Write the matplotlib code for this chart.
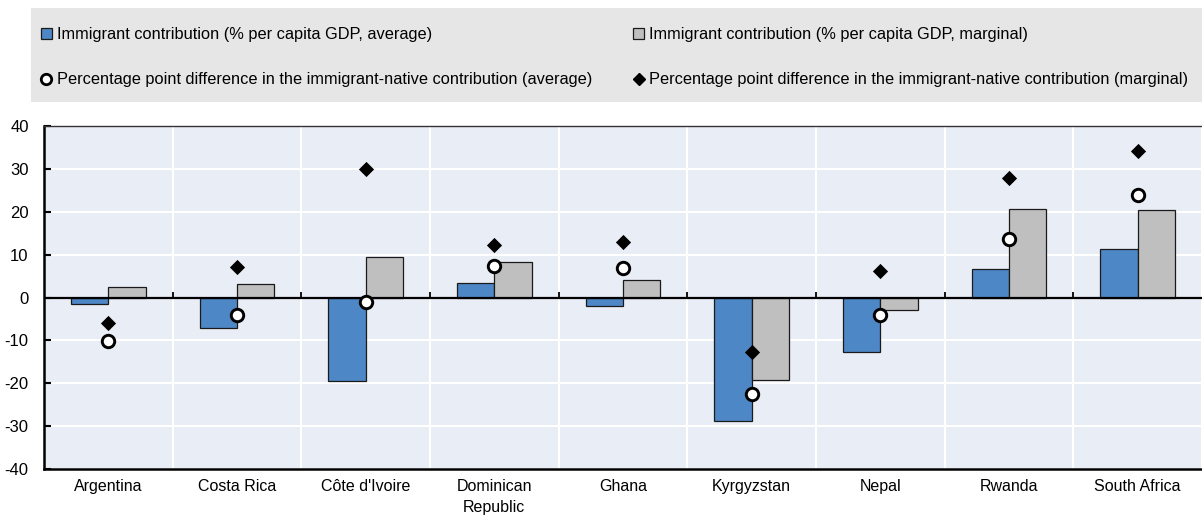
import matplotlib
matplotlib.use("Agg")
import matplotlib.pyplot as plt
from matplotlib.patches import Patch, Rectangle
from matplotlib.lines import Line2D
import numpy as np

plt.rcParams['font.family'] = ['Liberation Sans', 'DejaVu Sans']

countries = ["Argentina", "Costa Rica", "Côte d'Ivoire", "Dominican\nRepublic", "Ghana",
             "Kyrgyzstan", "Nepal", "Rwanda", "South Africa"]
contrib_avg = [-1.6, -7.2, -19.4, 3.3, -1.9, -28.8, -12.7, 6.6, 11.2]
contrib_marg = [2.5, 3.1, 9.4, 8.2, 4.1, -19.2, -2.9, 20.6, 20.4]
diff_avg = [-10.1, -4.1, -1.0, 7.3, 6.8, -22.6, -4.1, 13.6, 23.9]
diff_marg = [-6.0, 7.2, 30.0, 12.2, 13.0, -12.6, 6.2, 27.9, 34.2]
yticks = [-40, -30, -20, -10, 0, 10, 20, 30, 40]

labels = ["Immigrant contribution (% per capita GDP, average)",
          "Immigrant contribution (% per capita GDP, marginal)",
          "Percentage point difference in the immigrant-native contribution (average)",
          "Percentage point difference in the immigrant-native contribution (marginal)"]

BLUE = "#4e87c6"
GRAY = "#bfbfbf"
BG = "#e9edf5"
W, H = 1202, 517

fig = plt.figure(figsize=(W / 100, H / 100), dpi=100)
ax = fig.add_axes([44 / W, 1 - 469 / H, 1 - 44 / W, (469 - 126) / H])
ax.set_facecolor(BG)

x = np.arange(len(countries))
w = 0.29
ax.bar(x - w / 2, contrib_avg, w, color=BLUE, edgecolor="#1a1a1a", linewidth=0.9, zorder=3)
ax.bar(x + w / 2, contrib_marg, w, color=GRAY, edgecolor="#1a1a1a", linewidth=0.9, zorder=3)
ax.scatter(x, diff_marg, marker="D", s=60, color="black", linewidth=0, zorder=5)
ax.scatter(x, diff_avg, marker="o", s=80, facecolor="white", edgecolor="black", linewidth=2.1, zorder=6)

ax.set_xlim(-0.5, len(countries) - 0.5)
ax.set_ylim(-40, 40)
ax.set_yticks(yticks)
ax.set_yticklabels([str(v) for v in yticks])
ax.set_xticks(x)
ax.set_xticklabels(countries, linespacing=1.5)
ax.tick_params(axis="x", length=0, labelsize=11.5, pad=7, colors="black")
ax.tick_params(axis="y", direction="in", length=5, width=1.5, labelsize=12, pad=11)

# grid
ax.set_xticks(np.arange(len(countries) + 1) - 0.5, minor=True)
ax.tick_params(axis="x", which="minor", length=0)
ax.grid(True, which="major", axis="y", color="white", linewidth=1.5, zorder=1)
ax.grid(True, which="minor", axis="x", color="white", linewidth=1.5, zorder=1)
ax.set_axisbelow(True)

ax.axhline(0, color="black", linewidth=1.6, zorder=4)
# small category separator ticks on the zero line
for b in np.arange(1, len(countries)) - 0.5:
    ax.plot([b, b], [0, 1.3], color="black", linewidth=1.3, zorder=4, solid_capstyle="butt")

for s in ["left", "bottom"]:
    ax.spines[s].set_linewidth(1.8)
    ax.spines[s].set_color("black")
ax.spines["top"].set_linewidth(1.0)
ax.spines["top"].set_color("#333333")
ax.spines["right"].set_visible(False)

# legend background
fig.patches.append(Rectangle((31 / W, 1 - 102 / H), 1 - 31 / W, 94 / H,
                             transform=fig.transFigure, facecolor="#e6e6e6",
                             edgecolor="none", zorder=0))

handles = [Patch(facecolor=BLUE, edgecolor="#1a1a1a", linewidth=0.9),
           Line2D([], [], marker="o", linestyle="none", markersize=7.5, markerfacecolor="white",
                  markeredgecolor="black", markeredgewidth=2),
           Patch(facecolor=GRAY, edgecolor="#1a1a1a", linewidth=0.9),
           Line2D([], [], marker="D", linestyle="none", markersize=6, color="black")]
leg_labels = [labels[0], labels[2], labels[1], labels[3]]
leg = fig.legend(handles, leg_labels, ncol=2, loc="upper left",
                 bbox_to_anchor=(41 / W, 1 - 97 / H, (1188 - 41) / W, 70 / H),
                 mode="expand", frameon=False, fontsize=11.8, handlelength=0.65,
                 handleheight=0.65, handletextpad=0.3, labelspacing=1.85,
                 borderaxespad=0, borderpad=0, columnspacing=1.0)

fig.savefig("out.png", dpi=100)
